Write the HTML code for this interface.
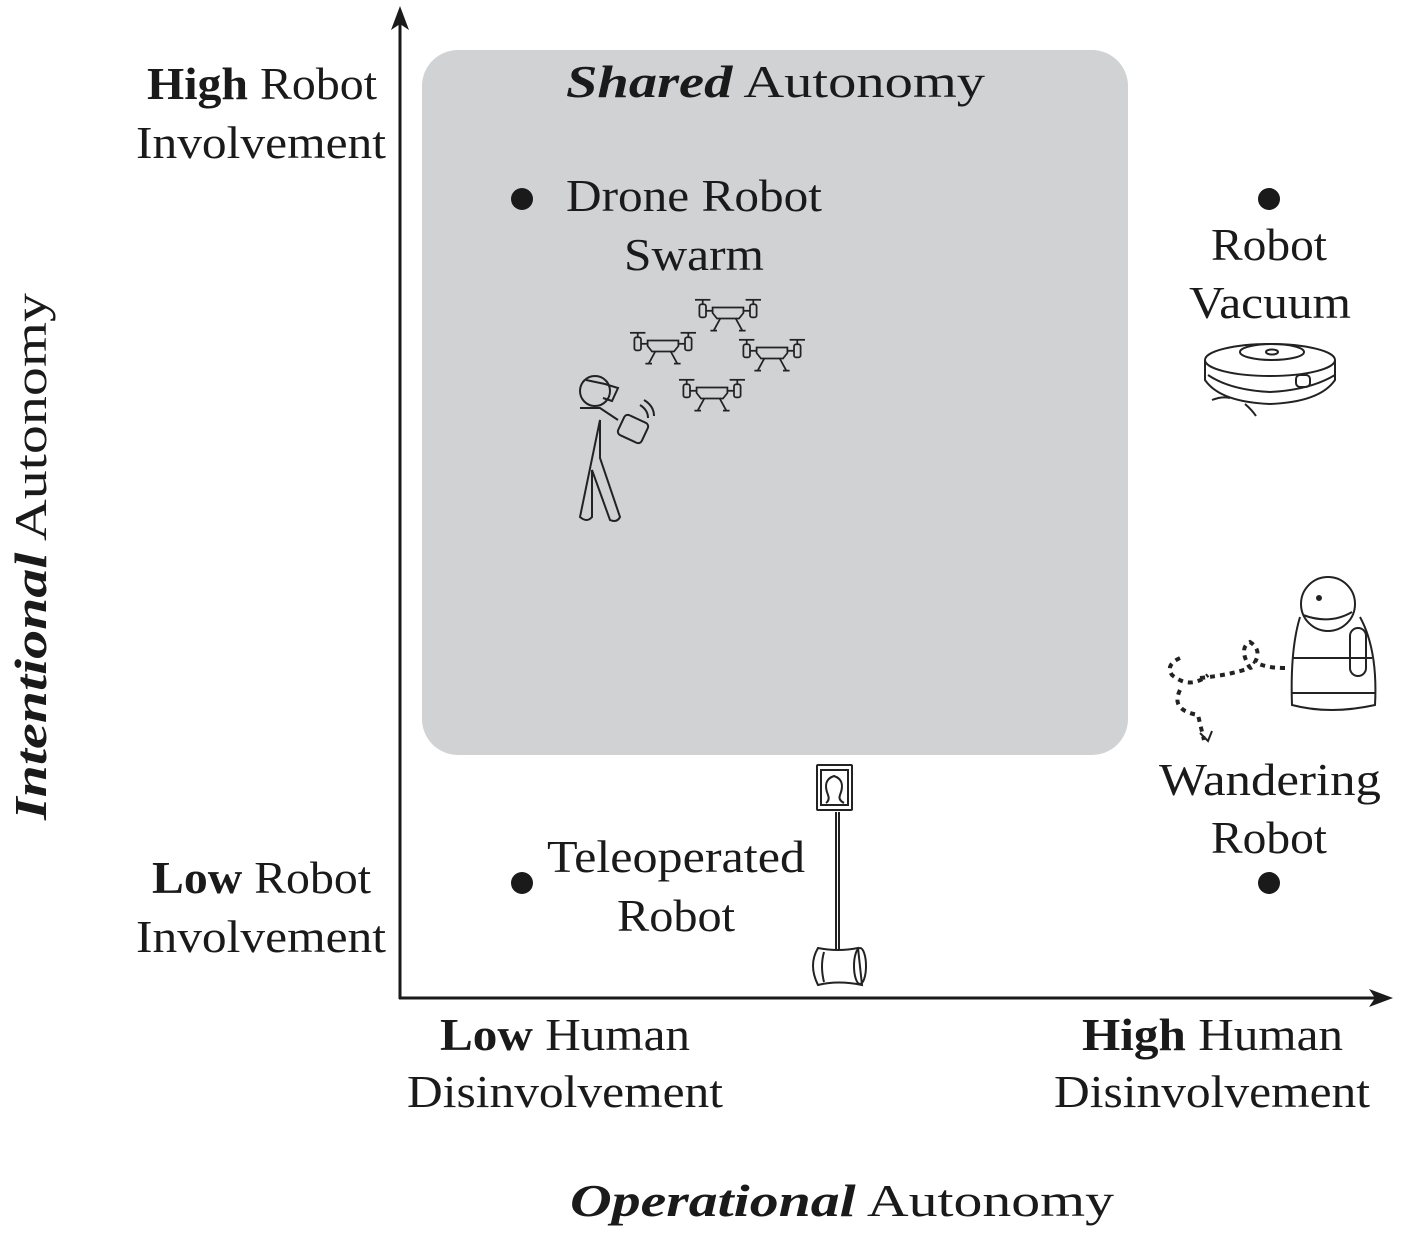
<!DOCTYPE html>
<html><head><meta charset="utf-8"><style>
html,body{margin:0;padding:0;background:#fff}
svg{display:block}
text{font-family:"Liberation Serif",serif;fill:#1a1a1a}
</style></head><body>
<svg width="1408" height="1248" viewBox="0 0 1408 1248" xmlns="http://www.w3.org/2000/svg">
<defs>
<g id="drone" fill="none" stroke="#222" stroke-width="1.6" transform="scale(1.1)">
<line x1="-30" y1="-12" x2="-16" y2="-12"/><line x1="16" y1="-12" x2="30" y2="-12"/>
<line x1="-23" y1="-12" x2="-23" y2="-8"/><line x1="23" y1="-12" x2="23" y2="-8"/>
<rect x="-26" y="-8" width="6" height="12" rx="2"/><rect x="20" y="-8" width="6" height="12" rx="2"/>
<line x1="-20" y1="-2" x2="-14" y2="-2"/><line x1="14" y1="-2" x2="20" y2="-2"/>
<path d="M-14,-5 H14 V0 L10,5 H-10 L-14,0 Z"/>
<path d="M-7,5 L-13,16 M-16,16 H-10 M7,5 L13,16 M10,16 H16"/>
</g>
</defs>
<rect x="422" y="50" width="706" height="705" rx="36" fill="#d1d2d4"/>
<g stroke="#1a1a1a" stroke-width="3" fill="none">
<line x1="400" y1="14" x2="400" y2="999"/>
<line x1="399" y1="998" x2="1386" y2="998"/>
</g>
<path d="M400,6 L391,30 L400,24 L409,30 Z" fill="#1a1a1a"/>
<path d="M1393,998 L1369,989 L1375,998 L1369,1007 Z" fill="#1a1a1a"/>
<g fill="#1a1a1a">
<circle cx="522" cy="199" r="11"/><circle cx="1269" cy="199" r="11"/>
<circle cx="522" cy="883" r="11"/><circle cx="1269" cy="883" r="11"/>
</g>
<g font-size="46" lengthAdjust="spacingAndGlyphs">
<text x="566" y="97" textLength="419" lengthAdjust="spacingAndGlyphs"><tspan font-weight="bold" font-style="italic">Shared</tspan> Autonomy</text>
<text x="147" y="99" textLength="230" lengthAdjust="spacingAndGlyphs"><tspan font-weight="bold">High</tspan> Robot</text>
<text x="136" y="158" textLength="250" lengthAdjust="spacingAndGlyphs">Involvement</text>
<text x="152" y="893" textLength="219" lengthAdjust="spacingAndGlyphs"><tspan font-weight="bold">Low</tspan> Robot</text>
<text x="136" y="952" textLength="250" lengthAdjust="spacingAndGlyphs">Involvement</text>
<text x="440" y="1050" textLength="250" lengthAdjust="spacingAndGlyphs"><tspan font-weight="bold">Low</tspan> Human</text>
<text x="407" y="1107" textLength="316" lengthAdjust="spacingAndGlyphs">Disinvolvement</text>
<text x="1082" y="1050" textLength="261" lengthAdjust="spacingAndGlyphs"><tspan font-weight="bold">High</tspan> Human</text>
<text x="1054" y="1107" textLength="316" lengthAdjust="spacingAndGlyphs">Disinvolvement</text>
<text x="570" y="1216" textLength="544" lengthAdjust="spacingAndGlyphs"><tspan font-weight="bold" font-style="italic">Operational</tspan> Autonomy</text>
<text transform="translate(46,820) rotate(-90)" textLength="527" lengthAdjust="spacingAndGlyphs"><tspan font-weight="bold" font-style="italic">Intentional</tspan> Autonomy</text>
<text x="566" y="211" textLength="256" lengthAdjust="spacingAndGlyphs">Drone Robot</text>
<text x="624" y="270" textLength="140" lengthAdjust="spacingAndGlyphs">Swarm</text>
<text x="1211" y="260" textLength="116" lengthAdjust="spacingAndGlyphs">Robot</text>
<text x="1189" y="318" textLength="162" lengthAdjust="spacingAndGlyphs">Vacuum</text>
<text x="1159" y="795" textLength="222" lengthAdjust="spacingAndGlyphs">Wandering</text>
<text x="1211" y="853" textLength="116" lengthAdjust="spacingAndGlyphs">Robot</text>
<text x="547" y="872" textLength="258" lengthAdjust="spacingAndGlyphs">Teleoperated</text>
<text x="617" y="931" textLength="118" lengthAdjust="spacingAndGlyphs">Robot</text>
</g>
<use href="#drone" x="728" y="313"/>
<use href="#drone" x="663" y="346"/>
<use href="#drone" x="772" y="353"/>
<use href="#drone" x="712" y="393"/>
<g fill="none" stroke="#222" stroke-width="2">
<circle cx="595" cy="391" r="15"/>
<path d="M586,380 L605,384 L618,388 L612,401 L603,398"/>
<path d="M580,408 H600 L618,420 M600,420 V458 L620,517 Q617,523 610,520 L592,470 V517 Q587,523 580,517 Z"/>
<rect x="620" y="418" width="26" height="22" rx="4" transform="rotate(25 633 429)"/>
<path d="M640,405 Q648,410 648,418 M644,400 Q654,406 654,416"/>
</g>
<g fill="none" stroke="#222" stroke-width="2">
<ellipse cx="1270" cy="360" rx="65" ry="16"/>
<ellipse cx="1272" cy="352" rx="32" ry="8"/>
<ellipse cx="1272" cy="352" rx="6" ry="2.5"/>
<path d="M1205,360 V380 Q1220,402 1270,404 Q1320,402 1335,380 V360"/>
<path d="M1208,375 Q1230,390 1270,392 Q1310,390 1335,375"/>
<rect x="1296" y="375" width="14" height="12" rx="4"/>
<path d="M1212,400 Q1222,396 1230,398 M1245,404 Q1252,410 1256,416"/>
</g>
<g fill="none" stroke="#222" stroke-width="2">
<circle cx="1328" cy="604" r="27"/>
<path d="M1303,615 Q1330,625 1352,612"/>
<path d="M1300,617 Q1290,650 1292,705 Q1330,715 1375,705 Q1378,650 1360,617"/>
<rect x="1350" y="628" width="16" height="48" rx="8"/>
<path d="M1292,658 H1372 M1292,693 H1375"/>
<circle cx="1319" cy="598" r="2" fill="#222"/>
<path d="M1180,658 Q1165,665 1172,675 Q1190,690 1208,675 M1180,690 Q1170,710 1198,715 L1204,740 M1200,678 Q1230,675 1250,668 Q1238,648 1250,642 Q1262,650 1255,662 Q1265,668 1285,668" stroke-width="4" stroke-dasharray="5 5"/>
<path d="M1200,733 L1208,741 L1212,731" stroke-width="2"/>
</g>
<g fill="none" stroke="#222" stroke-width="2">
<rect x="817" y="765" width="35" height="45" rx="1"/>
<rect x="821" y="770" width="27" height="35"/>
<path d="M826,803 Q830,800 828,795 Q822,780 834,776 Q846,780 840,795 Q838,800 844,803"/>
<line x1="836" y1="812" x2="836" y2="950"/>
<line x1="839" y1="812" x2="839" y2="950"/>
<path d="M818,948 Q838,952 858,948 L862,985 Q838,980 818,985 Q808,965 818,948 Z"/>
<ellipse cx="860" cy="966" rx="6" ry="18"/>
<path d="M824,952 Q820,966 824,982"/>
</g>
</svg>
</body></html>
